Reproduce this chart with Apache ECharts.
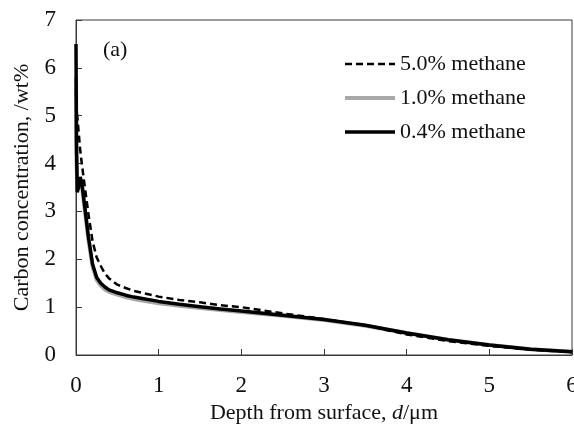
<!DOCTYPE html>
<html>
<head>
<meta charset="utf-8">
<script src="https://cdn.jsdelivr.net/npm/echarts@6/dist/echarts.min.js"></script>
<style>
  html, body { margin: 0; padding: 0; background: #fff; }
  #chart { width: 574px; height: 424px; }
</style>
</head>
<body>
<div id="chart"></div>
<script>
// depth from surface, µm
const depth = [0, 0.005, 0.015, 0.03, 0.05, 0.07, 0.1, 0.15, 0.2, 0.25, 0.3, 0.35, 0.4, 0.5, 0.6, 0.7, 0.8,
  1.0, 1.25, 1.5, 1.75, 2.0, 2.5, 3.0, 3.5, 4.0, 4.5, 5.0, 5.5, 6.0]

// carbon concentration, wt%
const methane50 = [5.5, 5.2, 5.0, 4.7, 4.3, 4.0, 3.6, 2.95, 2.38, 2.04, 1.86, 1.7, 1.6, 1.47, 1.4, 1.34, 1.3,
  1.22, 1.15, 1.1, 1.04, 1.0, 0.87, 0.75, 0.62, 0.43, 0.29, 0.19, 0.11, 0.06]
const methane10 = [5.8, 4.2, 3.5, 3.6, 3.68, 3.55, 3.12, 2.42, 1.85, 1.57, 1.45, 1.37, 1.32, 1.26, 1.21, 1.17, 1.14,
  1.08, 1.03, 0.98, 0.94, 0.9, 0.82, 0.73, 0.61, 0.46, 0.32, 0.21, 0.12, 0.07]
const methane04 = [6.5, 4.5, 3.4, 3.5, 3.72, 3.6, 3.18, 2.47, 1.9, 1.62, 1.5, 1.42, 1.36, 1.3, 1.25, 1.21, 1.18,
  1.12, 1.06, 1.01, 0.96, 0.92, 0.83, 0.74, 0.62, 0.46, 0.32, 0.21, 0.12, 0.07]

const seriesNames = ['5.0% methane', '1.0% methane', '0.4% methane']

const pairs = (ys) => depth.map((d, i) => [d, ys[i]])

const font = 'Liberation Serif'
const axisColor = '#3a3a3a'

const chart = echarts.init(document.getElementById('chart'))

chart.setOption({
  animation: false,
  textStyle: { fontFamily: font },
  grid: {
    left: 76,
    right: 2,
    top: 20,
    bottom: 69,
    outerBoundsMode: 'none',
    show: true,
    borderColor: axisColor,
    borderWidth: 1
  },
  title: {
    text: '(a)',
    left: 98,
    top: 34,
    textStyle: { fontFamily: font, fontSize: 22, fontWeight: 'normal', color: '#111' }
  },
  legend: {
    orient: 'vertical',
    left: 338,
    top: 48,
    itemWidth: 50,
    itemHeight: 14,
    itemGap: 12,
    data: [
      { name: seriesNames[0], lineStyle: { width: 2.5, type: [7, 4] } },
      { name: seriesNames[1], lineStyle: { width: 4 } },
      { name: seriesNames[2], lineStyle: { width: 3.5 } }
    ],
    itemStyle: { color: 'rgba(0,0,0,0)', borderWidth: 0 },
    textStyle: { fontFamily: font, fontSize: 22, color: '#111' }
  },
  xAxis: {
    type: 'value',
    min: 0,
    max: 6,
    interval: 1,
    name: '{n|Depth from surface, }{i|d}{n|/μm}',
    nameLocation: 'middle',
    nameGap: 47,
    nameTextStyle: {
      rich: {
        n: { fontFamily: font, fontSize: 22, color: '#111' },
        i: { fontFamily: font, fontSize: 22, fontStyle: 'italic', color: '#111' }
      }
    },
    axisLine: { lineStyle: { color: axisColor, width: 1 } },
    axisTick: { inside: true, length: 6, lineStyle: { color: axisColor } },
    axisLabel: { fontFamily: font, fontSize: 23, color: '#111', margin: 19 },
    splitLine: { show: false }
  },
  yAxis: {
    type: 'value',
    min: 0,
    max: 7,
    interval: 1,
    name: 'Carbon concentration, /wt%',
    nameLocation: 'middle',
    nameGap: 42,
    nameTextStyle: { fontFamily: font, fontSize: 22, color: '#111' },
    axisLine: { show: true, lineStyle: { color: axisColor, width: 1 } },
    axisTick: { show: true, inside: true, length: 6, lineStyle: { color: axisColor } },
    axisLabel: { fontFamily: font, fontSize: 23, color: '#111', margin: 20 },
    splitLine: { show: false }
  },
  series: [
    {
      name: seriesNames[1],
      type: 'line',
      data: pairs(methane10),
      symbol: 'none',
      z: 2,
      lineStyle: { color: '#a8a8a8', width: 4 },
      itemStyle: { color: '#a8a8a8' }
    },
    {
      name: seriesNames[2],
      type: 'line',
      data: pairs(methane04),
      symbol: 'none',
      z: 3,
      lineStyle: { color: '#000', width: 3.5 },
      itemStyle: { color: '#000' }
    },
    {
      name: seriesNames[0],
      type: 'line',
      data: pairs(methane50),
      symbol: 'none',
      z: 4,
      lineStyle: { color: '#000', width: 2.5, type: [7, 4] },
      itemStyle: { color: '#000' }
    }
  ]
})
</script>
</body>
</html>
